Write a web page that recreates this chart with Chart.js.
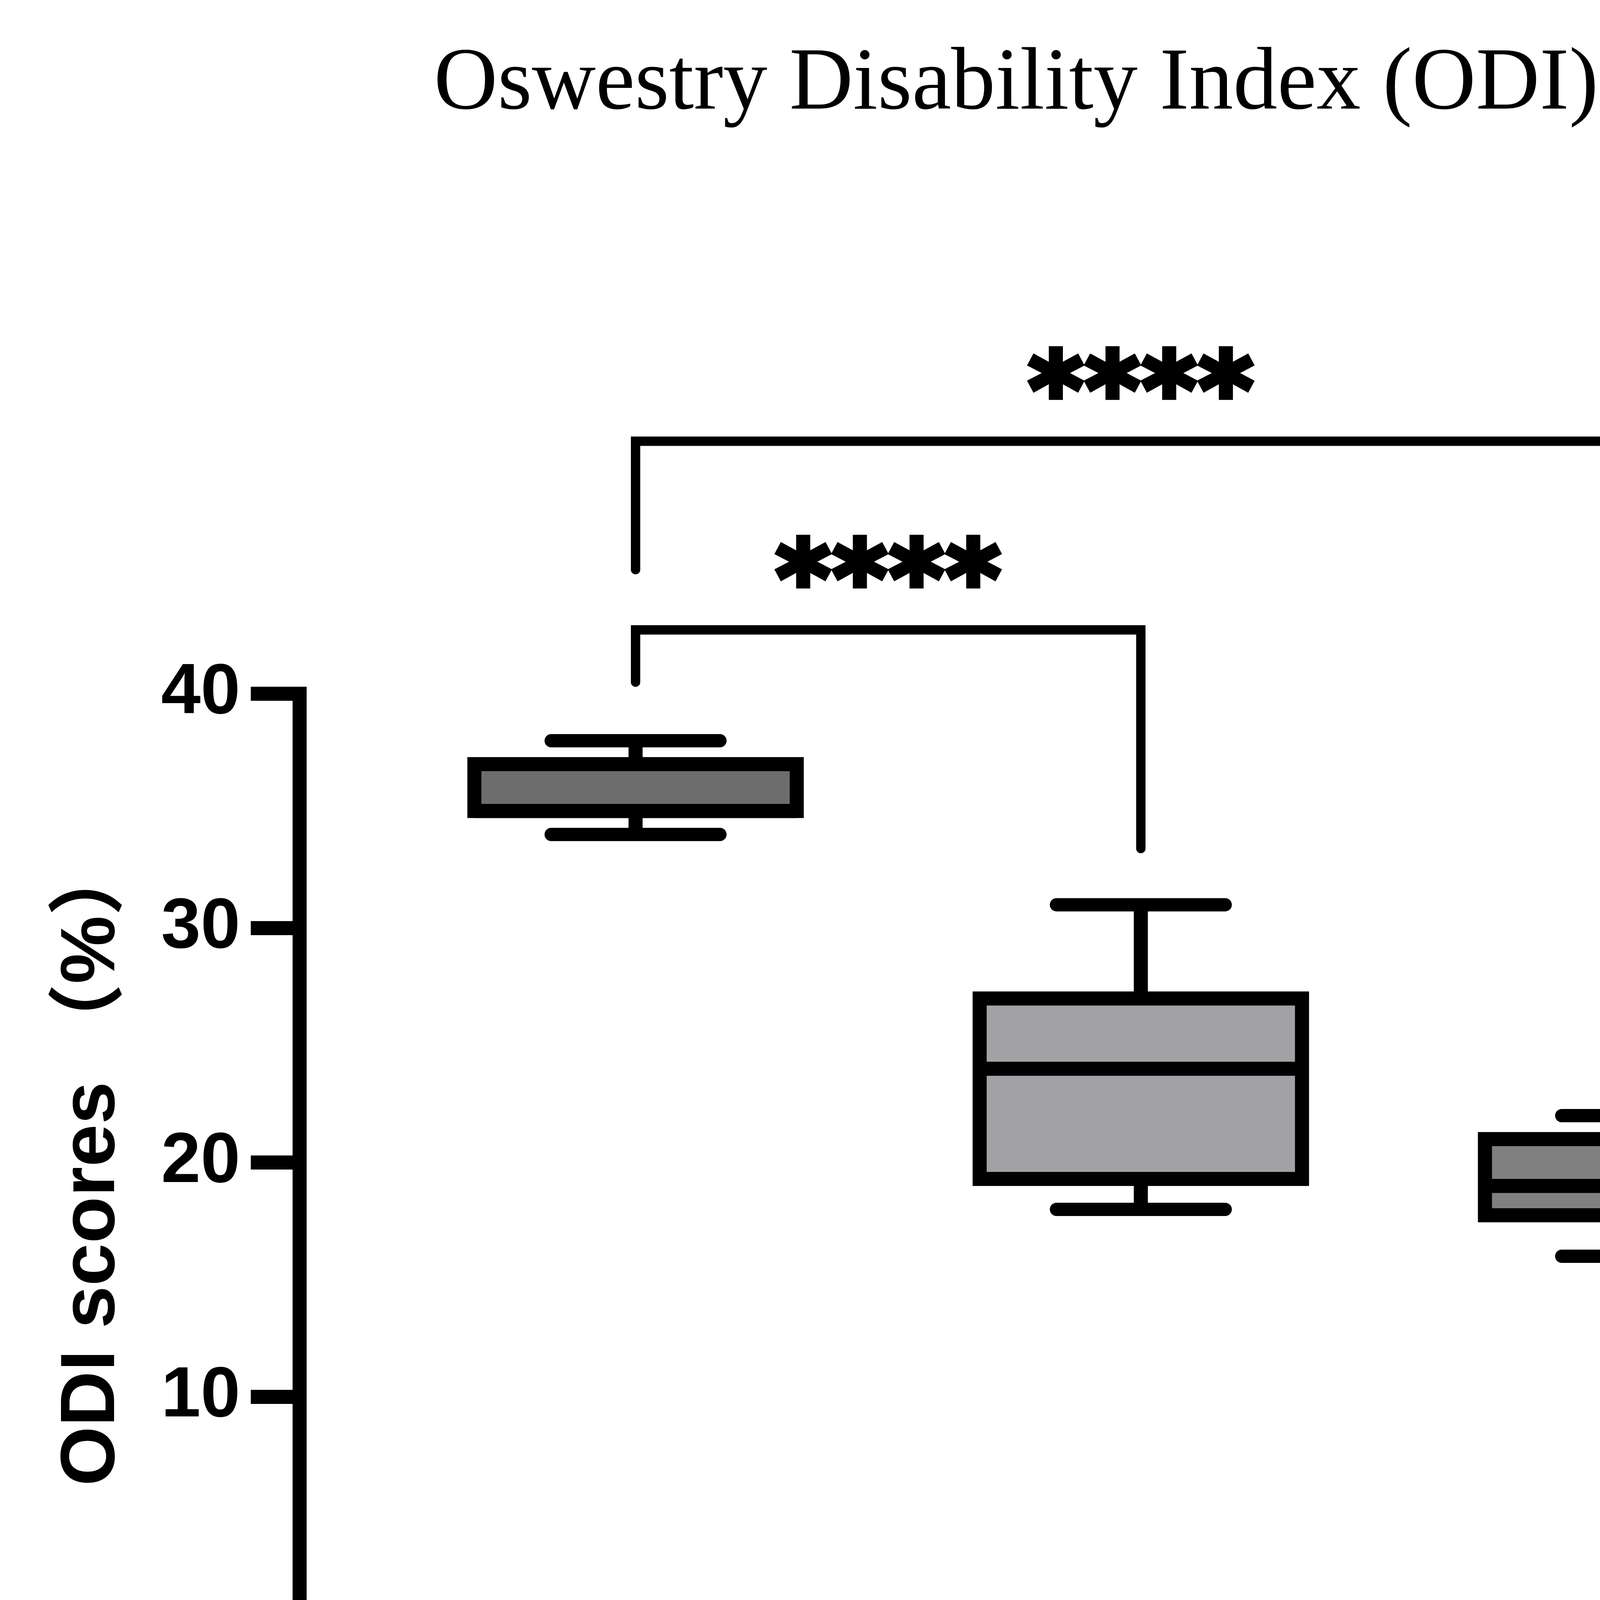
<!DOCTYPE html>
<html>
<head>
<meta charset="utf-8">
<script src="https://cdn.jsdelivr.net/npm/chart.js@4.4.1/dist/chart.umd.min.js"></script>
<style>
  html, body { margin: 0; padding: 0; background: #ffffff; overflow: hidden; }
</style>
</head>
<body>
<canvas id="c" width="5217" height="6300" style="display:block;width:5217px;height:6300px"></canvas>
<script>
// ---- data ----
const categories = ['Pre-Operative ODI', '3 months Post-Operative ODI', '6 months Post-Operative ODI'];
const whiskerMin = [34, 18, 16];
const quartile1  = [35, 19.3, 17.75];
const medians    = [35, 24, 19];
const quartile3  = [37, 27, 21];
const whiskerMax = [38, 31, 22];
const boxColors  = ['#6d6d6d', '#a2a1a5', '#808080'];
const yTicks     = [0, 10, 20, 30, 40];

// significance comparisons (category indices, bracket level, leg ends, label)
const sigFrom     = [0, 0];
const sigTo       = [1, 2];
const sigLevel    = [42.73, 50.78];
const sigLeftEnd  = [40.5, 45.3];
const sigRightEnd = [33.4, 24.5];
const sigLabels   = ['****', '****'];

const SANS = '"Liberation Sans", Arial, "Noto Sans CJK SC", sans-serif';
const STAR = '"DejaVu Sans", sans-serif';
const SERIF = '"Liberation Serif", "Times New Roman", serif';

const boxPlugin = {
  id: 'boxDecor',
  afterDatasetsDraw(chart) {
    const ctx = chart.ctx;
    const xs = chart.scales.x, ys = chart.scales.y;
    const meta = chart.getDatasetMeta(0);
    ctx.save();
    ctx.strokeStyle = '#000';
    meta.data.forEach((el, i) => {
      const p = el.getProps(['x', 'y', 'base', 'width'], true);
      const left = p.x - p.width / 2, right = p.x + p.width / 2;
      const top = Math.min(p.y, p.base), bottom = Math.max(p.y, p.base);
      const yMax = ys.getPixelForValue(whiskerMax[i]);
      const yMin = ys.getPixelForValue(whiskerMin[i]);
      const capHalf = xs.getPixelForValue(i + 0.167) - xs.getPixelForValue(i);
      // whisker stems
      ctx.lineWidth = 36; ctx.lineCap = 'butt';
      ctx.beginPath();
      ctx.moveTo(p.x, top); ctx.lineTo(p.x, yMax);
      ctx.moveTo(p.x, bottom); ctx.lineTo(p.x, yMin);
      ctx.stroke();
      // whisker caps
      ctx.lineCap = 'round'; ctx.lineWidth = 34;
      ctx.beginPath();
      ctx.moveTo(p.x - capHalf, yMax); ctx.lineTo(p.x + capHalf, yMax);
      ctx.moveTo(p.x - capHalf, yMin); ctx.lineTo(p.x + capHalf, yMin);
      ctx.stroke();
      // box outline
      ctx.lineCap = 'butt'; ctx.lineJoin = 'miter'; ctx.lineWidth = 36;
      ctx.strokeRect(left, top, right - left, bottom - top);
      // median
      const ym = ys.getPixelForValue(medians[i]);
      ctx.beginPath();
      ctx.moveTo(left, ym); ctx.lineTo(right, ym);
      ctx.stroke();
    });
    // significance brackets
    ctx.lineWidth = 24; ctx.lineJoin = 'miter'; ctx.lineCap = 'round';
    ctx.fillStyle = '#000';
    sigFrom.forEach((a, k) => {
      const x0 = xs.getPixelForValue(a), x1 = xs.getPixelForValue(sigTo[k]);
      const yb = ys.getPixelForValue(sigLevel[k]);
      ctx.beginPath();
      ctx.moveTo(x0, ys.getPixelForValue(sigLeftEnd[k]));
      ctx.lineTo(x0, yb);
      ctx.lineTo(x1, yb);
      ctx.lineTo(x1, ys.getPixelForValue(sigRightEnd[k]));
      ctx.stroke();
    });
    ctx.font = 'bold 266px ' + STAR;
    const ls = 6;
    ctx.letterSpacing = ls + 'px';
    ctx.textAlign = 'center'; ctx.textBaseline = 'middle';
    ctx.lineWidth = 14; ctx.lineJoin = 'miter';
    sigFrom.forEach((a, k) => {
      const x0 = xs.getPixelForValue(a), x1 = xs.getPixelForValue(sigTo[k]);
      const yb = ys.getPixelForValue(sigLevel[k]);
      const tx = (x0 + x1) / 2 + ls / 2, ty = yb - 108;
      ctx.fillText(sigLabels[k], tx, ty);
      ctx.strokeText(sigLabels[k], tx, ty);
    });
    ctx.restore();
  }
};

new Chart(document.getElementById('c'), {
  type: 'bar',
  data: {
    datasets: [{
      data: categories.map((c, i) => ({ x: i, y: [quartile1[i], quartile3[i]] })),
      backgroundColor: boxColors,
      borderWidth: 0,
      barPercentage: 0.638,
      categoryPercentage: 1
    }]
  },
  options: {
    responsive: false,
    animation: false,
    devicePixelRatio: 1,
    layout: { padding: { left: 0, right: 160, top: 0, bottom: 0 } },
    plugins: {
      legend: { display: false },
      tooltip: { enabled: false },
      title: {
        display: true,
        text: 'Oswestry Disability Index (ODI) scores',
        fullSize: false,
        color: '#000',
        font: { family: SERIF, size: 226, weight: 'normal' },
        padding: { top: 83, bottom: 1422 }
      }
    },
    scales: {
      x: {
        type: 'linear',
        offset: false,
        min: -0.6649,
        max: 2.6517,
        afterBuildTicks: (s) => { s.ticks = categories.map((c, i) => ({ value: i })); },
        afterFit: (s) => { s.height = 2124; },
        ticks: {
          autoSkip: false,
          minRotation: 45,
          maxRotation: 45,
          padding: 24,
          color: '#000',
          font: { family: SANS, size: 183, weight: 'bold' },
          callback: (v) => categories[v]
        },
        grid: { offset: false, drawOnChartArea: false, drawTicks: true, tickLength: 125, lineWidth: 36, tickWidth: 36, color: '#000', tickColor: '#000' },
        border: { display: true, width: 36, color: '#000' }
      },
      y: {
        type: 'linear',
        min: 0,
        max: 40,
        afterBuildTicks: (s) => { s.ticks = yTicks.map(v => ({ value: v })); },
        afterFit: (s) => { s.width = 767; },
        ticks: {
          padding: 27,
          color: '#000',
          font: { family: SANS, size: 182, weight: 'bold' }
        },
        title: {
          display: true,
          text: 'ODI scores （%）',
          color: '#000',
          font: { family: SANS, size: 196, weight: 'bold' },
          padding: { top: 120, bottom: 0 }
        },
        grid: { drawOnChartArea: false, drawTicks: true, tickLength: 125, lineWidth: 36, tickWidth: 36, color: '#000', tickColor: '#000' },
        border: { display: true, width: 36, color: '#000' }
      }
    }
  },
  plugins: [boxPlugin]
});
</script>
</body>
</html>
